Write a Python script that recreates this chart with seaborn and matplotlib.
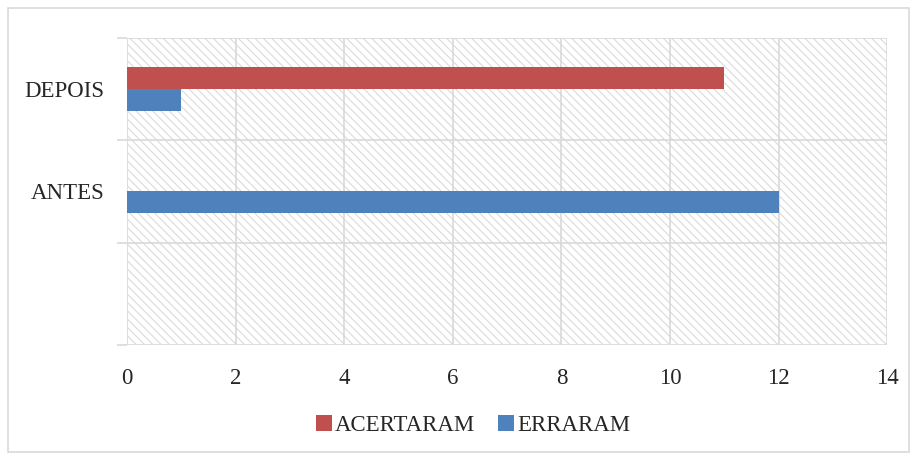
import matplotlib
matplotlib.use("Agg")
import matplotlib.pyplot as plt
from matplotlib.patches import Rectangle
import seaborn as sns
import pandas as pd
import numpy as np

categories = ["DEPOIS", "ANTES", ""]
acertaram = [11, 0, 0]
erraram = [1, 12, 0]
series_names = ["ACERTARAM", "ERRARAM"]
x_ticks = [0, 2, 4, 6, 8, 10, 12, 14]

df = pd.DataFrame({
    "categoria": categories * 2,
    "valor": acertaram + erraram,
    "serie": [series_names[0]] * 3 + [series_names[1]] * 3,
})

sns.set_theme(style="white")
plt.rcParams["font.family"] = ["Liberation Serif", "DejaVu Serif"]
plt.rcParams["hatch.linewidth"] = 0.7
plt.rcParams["hatch.color"] = "#d6d6d6"

fig = plt.figure(figsize=(9.17, 4.59), dpi=100)
ax = fig.add_axes([0.1385, 0.249, 0.829, 0.668])

# hatched plot area background
ax.add_patch(Rectangle((0, 0), 1, 1, transform=ax.transAxes, facecolor="white",
                       edgecolor="#d6d6d6", hatch="\\\\\\\\", lw=0, zorder=0))

palette = {"ACERTARAM": "#C0504D", "ERRARAM": "#4F81BD"}
sns.barplot(data=df, y="categoria", x="valor", hue="serie", order=categories,
            hue_order=series_names, palette=palette, orient="h", width=0.43,
            linewidth=0, saturation=1, ax=ax, legend=True, zorder=3)

ax.set_xlim(0, 14)
ax.set_ylim(2.5, -0.5)
ax.set_xticks(x_ticks)
ax.set_xticklabels([str(t) for t in x_ticks])
ax.set_yticks([0, 1, 2])
ax.set_yticklabels(categories)
ax.set_yticks([-0.5, 0.5, 1.5, 2.5], minor=True)
ax.tick_params(axis="y", which="major", left=False, length=0, pad=16, labelsize=16.5)
ax.tick_params(axis="y", which="minor", left=True, length=7, width=1.2,
               color="#d9d9d9", direction="out")
ax.tick_params(axis="x", length=0, pad=17, labelsize=16.5)
ax.set_xlabel("")
ax.set_ylabel("")

ax.grid(False)
ax.xaxis.grid(True, which="major", color="#d9d9d9", lw=1.2, zorder=1)
ax.yaxis.grid(True, which="minor", color="#d9d9d9", lw=1.2, zorder=1)
ax.set_axisbelow(True)
for s in ax.spines.values():
    s.set_visible(False)

handles, labels = ax.get_legend_handles_labels()
if ax.legend_:
    ax.legend_.remove()
fig.legend(handles, labels, loc="center", bbox_to_anchor=(0.516, 0.072), ncol=2,
           frameon=False, fontsize=16.5, handlelength=0.7, handleheight=0.7,
           handletextpad=0.15, columnspacing=1.0)

# outer figure border
fig.patches.append(Rectangle((0.009, 0.015), 0.982, 0.968, transform=fig.transFigure,
                             fill=False, edgecolor="#d9d9d9", lw=1.2))

fig.savefig("out.png", dpi=100)
